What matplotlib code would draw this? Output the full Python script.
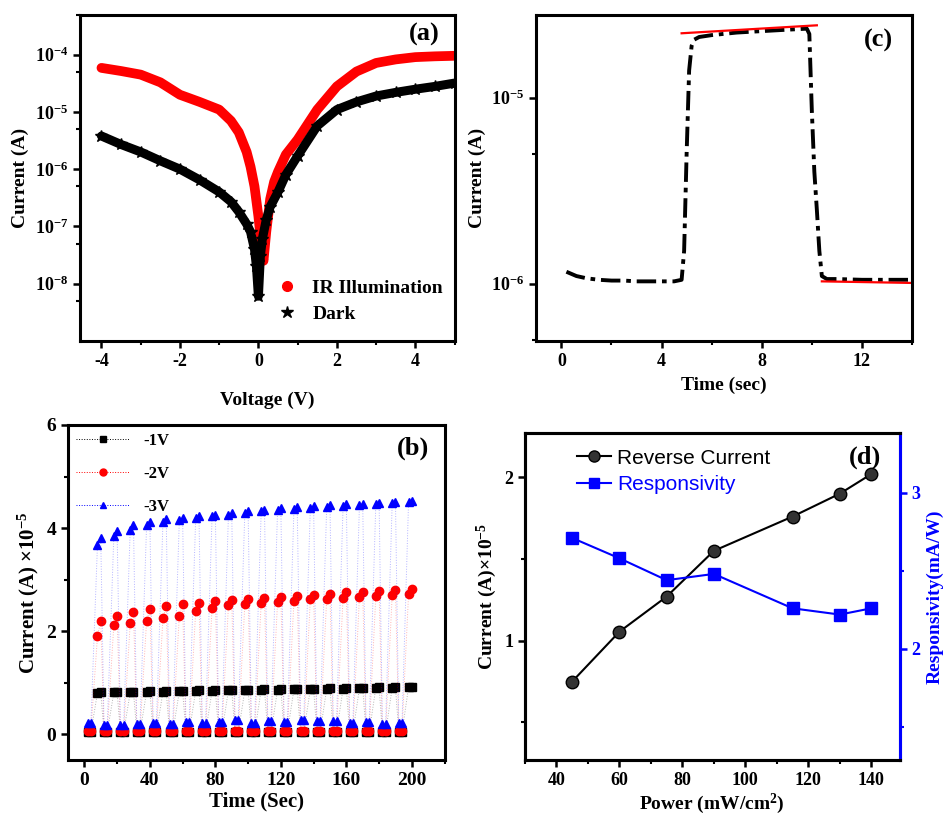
import matplotlib
matplotlib.use("Agg")
import matplotlib.pyplot as plt
from matplotlib.lines import Line2D
from matplotlib.ticker import LogLocator, MultipleLocator, LogFormatterSciNotation

plt.rcParams["font.family"] = "Liberation Serif"
plt.rcParams["font.weight"] = "bold"
plt.rcParams["axes.labelweight"] = "bold"
plt.rcParams["axes.unicode_minus"] = False
plt.rcParams["mathtext.fontset"] = "custom"
plt.rcParams["mathtext.rm"] = "Liberation Serif:bold"
plt.rcParams["mathtext.bf"] = "Liberation Serif:bold"
plt.rcParams["mathtext.it"] = "Liberation Serif:bold:italic"
plt.rcParams["axes.linewidth"] = 2.2

# (a) I-V curves
v_ir = [-4, -3.5, -3, -2.5, -2, -1.5, -1, -0.7, -0.5, -0.3, -0.2, -0.1, 0, 0.05, 0.1, 0.13,
        0.2, 0.3, 0.4, 0.5, 0.7, 1, 1.5, 2, 2.5, 3, 3.5, 4, 4.5, 5]
i_ir = [5.9e-5, 5.2e-5, 4.5e-5, 3.3e-5, 2.0e-5, 1.5e-5, 1.1e-5, 7e-6, 4.4e-6, 2e-6, 1.1e-6, 5e-7,
        1.5e-7, 7e-8, 3e-8, 2.5e-8, 8e-8, 3e-7, 6e-7, 9e-7, 1.8e-6, 3.3e-6, 1.1e-5, 2.8e-5,
        5.1e-5, 7.2e-5, 8.3e-5, 9.1e-5, 9.4e-5, 9.6e-5]
v_dark = [-4, -3.5, -3, -2.5, -2, -1.5, -1, -0.7, -0.5, -0.3, -0.2, -0.1, -0.05, 0, 0.05, 0.1,
          0.2, 0.3, 0.5, 0.7, 1, 1.5, 2, 2.5, 3, 3.5, 4, 4.5, 5]
i_dark = [3.8e-6, 2.7e-6, 2e-6, 1.4e-6, 1e-6, 6.5e-7, 4e-7, 2.7e-7, 1.8e-7, 1.1e-7, 8e-8, 4e-8,
          2e-8, 6e-9, 3e-8, 6e-8, 1.3e-7, 2.2e-7, 4e-7, 8e-7, 1.7e-6, 5.7e-6, 1.1e-5, 1.5e-5,
          1.9e-5, 2.2e-5, 2.5e-5, 2.8e-5, 3.2e-5]

# (b) pulsed response, one value per 10 s cycle
n_cycles = 20
hi1_first = [0.80, 0.81, 0.81, 0.82, 0.82, 0.83, 0.84, 0.84, 0.85, 0.85, 0.86, 0.86, 0.87, 0.87,
             0.88, 0.88, 0.89, 0.90, 0.90, 0.91]
hi1_second = [0.81, 0.82, 0.82, 0.83, 0.83, 0.84, 0.85, 0.85, 0.86, 0.86, 0.87, 0.87, 0.88, 0.88,
              0.89, 0.89, 0.90, 0.91, 0.91, 0.92]
lo1 = [0.04] * n_cycles
hi2_first = [1.9, 2.12, 2.15, 2.2, 2.25, 2.3, 2.4, 2.45, 2.5, 2.52, 2.55, 2.57, 2.59, 2.62, 2.63,
             2.65, 2.67, 2.69, 2.7, 2.72]
hi2_second = [2.2, 2.3, 2.37, 2.43, 2.48, 2.52, 2.55, 2.58, 2.61, 2.63, 2.65, 2.67, 2.69, 2.71,
              2.73, 2.75, 2.76, 2.78, 2.80, 2.82]
lo2 = [0.07] * n_cycles
hi3_first = [3.68, 3.85, 3.97, 4.05, 4.12, 4.16, 4.2, 4.23, 4.26, 4.3, 4.33, 4.35, 4.37, 4.39,
             4.41, 4.43, 4.45, 4.47, 4.49, 4.51]
hi3_second = [3.8, 3.95, 4.05, 4.12, 4.17, 4.2, 4.24, 4.26, 4.29, 4.33, 4.36, 4.38, 4.40, 4.42,
              4.44, 4.46, 4.47, 4.49, 4.51, 4.53]
lo3 = [0.22, 0.18, 0.18, 0.2, 0.22, 0.2, 0.24, 0.22, 0.24, 0.28, 0.22, 0.26, 0.24, 0.28, 0.26,
       0.26, 0.22, 0.24, 0.2, 0.22]

# (c) transient
t_c = [0.2, 0.6, 1.0, 1.5, 2.0, 2.5, 3.0, 3.5, 4.0, 4.5, 4.8, 4.9, 5.0, 5.1, 5.2, 5.3, 5.5, 6.0,
       7.0, 8.0, 9.0, 9.8, 9.9, 10.0, 10.1, 10.2, 10.3, 10.4, 10.6, 11, 12, 13, 14]
i_c = [1.16e-6, 1.1e-6, 1.07e-6, 1.05e-6, 1.04e-6, 1.04e-6, 1.03e-6, 1.03e-6, 1.03e-6, 1.03e-6,
       1.05e-6, 1.5e-6, 5e-6, 1.4e-5, 1.9e-5, 2.05e-5, 2.12e-5, 2.17e-5, 2.24e-5, 2.28e-5,
       2.32e-5, 2.35e-5, 2.2e-5, 8.5e-6, 4e-6, 2.5e-6, 1.5e-6, 1.1e-6, 1.06e-6, 1.06e-6,
       1.05e-6, 1.05e-6, 1.05e-6]
fit_on_t = [4.8, 10.2]
fit_on_i = [2.22e-5, 2.45e-5]
fit_off_t = [10.4, 14]
fit_off_i = [1.03e-6, 1.01e-6]

# (d) power dependence
power = [45, 60, 75, 90, 115, 130, 140]
rev_current = [0.75, 1.055, 1.27, 1.55, 1.76, 1.90, 2.02]
responsivity = [2.71, 2.58, 2.44, 2.48, 2.26, 2.22, 2.26]

fig = plt.figure(figsize=(9.51, 8.23), dpi=100)
ax_a = fig.add_axes([0.084, 0.586, 0.394, 0.396])
ax_c = fig.add_axes([0.564, 0.586, 0.395, 0.396])
ax_b = fig.add_axes([0.0715, 0.0766, 0.396, 0.407])
ax_d = fig.add_axes([0.552, 0.0766, 0.394, 0.397])

tick_kw = dict(direction="out", width=1.8, labelsize=13)
for ax in (ax_a, ax_b, ax_c, ax_d):
    ax.tick_params(which="major", length=5, **tick_kw)
    ax.tick_params(which="minor", length=3, width=1.5)
ax_b.tick_params(which="major", labelsize=14)

# ---- (a)
ax_a.set_yscale("log")
ax_a.plot(v_ir, i_ir, color="red", lw=7, solid_capstyle="round", solid_joinstyle="round")
ax_a.plot(v_dark, i_dark, color="black", lw=6.5, solid_capstyle="round", solid_joinstyle="round")
ax_a.plot(v_dark, i_dark, "*", color="black", ms=9)
ax_a.set_xlim(-4.55, 5)
ax_a.set_ylim(1e-9, 5e-4)
ax_a.xaxis.set_major_locator(MultipleLocator(2))
ax_a.xaxis.set_minor_locator(MultipleLocator(1))
ax_a.set_yticks([1e-8, 1e-7, 1e-6, 1e-5, 1e-4])
ax_a.yaxis.set_major_formatter(LogFormatterSciNotation())
ax_a.yaxis.set_minor_locator(LogLocator(base=10, subs=[5], numticks=10))
ax_a.yaxis.set_minor_formatter(plt.NullFormatter())
ax_a.set_xlabel("Voltage (V)", fontsize=14, labelpad=16)
ax_a.set_ylabel("Current (A)", fontsize=14)
ax_a.text(0.96, 0.94, "(a)", transform=ax_a.transAxes, ha="right", va="center",
          fontsize=19, fontweight="bold")
leg_a = [Line2D([], [], ls="none", marker="o", color="red", ms=7),
         Line2D([], [], ls="none", marker="*", color="black", ms=9)]
ax_a.legend(leg_a, ["IR Illumination", "Dark"], loc="lower right", frameon=False,
            fontsize=14, handletextpad=0.3, borderaxespad=0.2, labelspacing=0.4,
            bbox_to_anchor=(1.0, 0.02))

# ---- (b)
series_b = [("-1V", "black", "s", hi1_first, hi1_second, lo1),
            ("-2V", "red", "o", hi2_first, hi2_second, lo2),
            ("-3V", "blue", "^", hi3_first, hi3_second, lo3)]
handles_b = []
for label, col, mk, h1, h2, lo in series_b:
    t, y = [], []
    for k in range(n_cycles):
        t += [10 * k + 2, 10 * k + 4, 10 * k + 8, 10 * k + 10]
        y += [lo[k], lo[k], h1[k], h2[k]]
    ax_b.plot(t, y, ls=":", lw=0.7, color=col, alpha=0.3)
    ax_b.plot(t, y, ls="none", marker=mk, color=col, ms=6)
    handles_b.append(Line2D([], [], ls=":", lw=0.7, color=col, marker=mk, ms=5, alpha=1))
ax_b.set_xlim(-10, 220)
ax_b.set_ylim(-0.5, 6)
ax_b.xaxis.set_major_locator(MultipleLocator(40))
ax_b.xaxis.set_minor_locator(MultipleLocator(20))
ax_b.yaxis.set_major_locator(MultipleLocator(2))
ax_b.yaxis.set_minor_locator(MultipleLocator(1))
ax_b.set_xlabel("Time (Sec)", fontsize=15, labelpad=2)
ax_b.set_ylabel(r"Current (A) $\times$10$^{-5}$", fontsize=15)
ax_b.text(0.96, 0.93, "(b)", transform=ax_b.transAxes, ha="right", va="center",
          fontsize=19, fontweight="bold")
ax_b.legend(handles_b, ["-1V", "-2V", "-3V"], loc="upper left", frameon=False, fontsize=12,
            handlelength=3.2, borderaxespad=0.1, labelspacing=1.0)

# ---- (c)
ax_c.set_yscale("log")
ax_c.plot(t_c, i_c, color="black", lw=2.8, ls=(0, (5, 1.5, 1.2, 1.5)))
ax_c.plot(fit_on_t, fit_on_i, color="red", lw=1.6)
ax_c.plot(fit_off_t, fit_off_i, color="red", lw=1.6)
ax_c.set_xlim(-1, 14)
ax_c.set_ylim(4.94e-7, 2.79e-5)
ax_c.xaxis.set_major_locator(MultipleLocator(4))
ax_c.xaxis.set_minor_locator(MultipleLocator(2))
ax_c.set_yticks([1e-6, 1e-5])
ax_c.yaxis.set_major_formatter(LogFormatterSciNotation())
ax_c.yaxis.set_minor_locator(LogLocator(base=10, subs=[5], numticks=10))
ax_c.yaxis.set_minor_formatter(plt.NullFormatter())
ax_c.set_xlabel("Time (sec)", fontsize=14, labelpad=5)
ax_c.set_ylabel("Current (A)", fontsize=14)
ax_c.text(0.95, 0.92, "(c)", transform=ax_c.transAxes, ha="right", va="center",
          fontsize=19, fontweight="bold")

# ---- (d)
ax_d2 = ax_d.twinx()
ax_d.plot(power, rev_current, color="black", lw=1.5, marker="o", ms=9,
          mfc="#333333", mec="black")
ax_d2.plot(power, responsivity, color="blue", lw=1.5, marker="s", ms=9)
ax_d.set_xlim(30, 149)
ax_d.set_ylim(0.27, 2.27)
ax_d2.set_ylim(1.29, 3.38)
ax_d.xaxis.set_major_locator(MultipleLocator(20))
ax_d.xaxis.set_minor_locator(MultipleLocator(10))
ax_d.yaxis.set_major_locator(MultipleLocator(1))
ax_d.yaxis.set_minor_locator(MultipleLocator(0.5))
ax_d2.yaxis.set_major_locator(MultipleLocator(1))
ax_d2.yaxis.set_minor_locator(MultipleLocator(0.5))
ax_d2.tick_params(which="major", length=5, direction="out", width=1.8, labelsize=13,
                  colors="blue")
ax_d2.tick_params(which="minor", length=3, width=1.5, colors="blue")
ax_d2.spines["right"].set_color("blue")
ax_d2.spines["right"].set_linewidth(2.2)
ax_d.set_xlabel(r"Power (mW/cm$^2$)", fontsize=14, labelpad=2)
ax_d.set_ylabel(r"Current (A)$\times$10$^{-5}$", fontsize=14)
ax_d2.set_ylabel("Responsivity(mA/W)", fontsize=14, color="blue")
ax_d.text(0.95, 0.925, "(d)", transform=ax_d.transAxes, ha="right", va="center",
          fontsize=19, fontweight="bold")
leg_d = [Line2D([], [], color="black", lw=1.5, marker="o", ms=8, mfc="#333333"),
         Line2D([], [], color="blue", lw=1.5, marker="s", ms=7)]
leg = ax_d.legend(leg_d, ["Reverse Current", "Responsivity"], loc="upper left",
                  frameon=False, handlelength=1.6, handletextpad=0.3,
                  bbox_to_anchor=(0.09, 1.01), labelspacing=0.35,
                  prop={"family": "Liberation Sans", "size": 15, "weight": "normal"})
leg.get_texts()[1].set_color("blue")

fig.savefig("out.png", dpi=100)
